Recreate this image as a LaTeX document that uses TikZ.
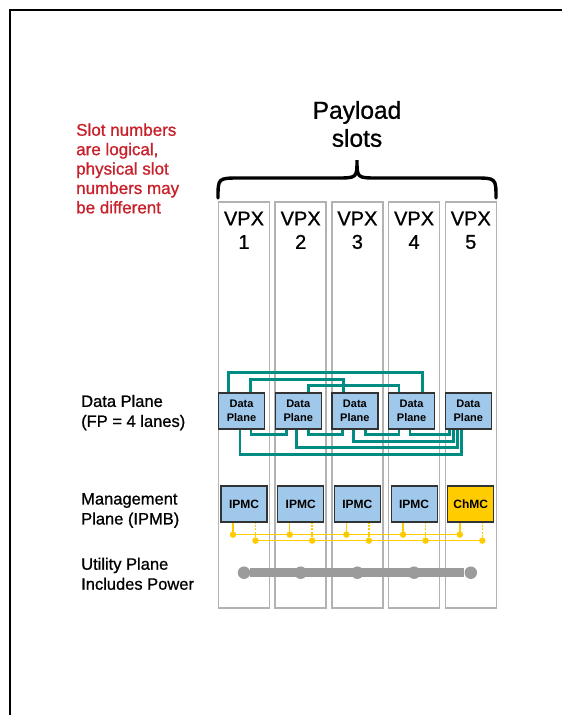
\documentclass[tikz,border=0pt]{standalone}
\usepackage{fontspec}
\setmainfont{Liberation Sans}
\newfontfamily\medium[FakeBold=0.9]{Liberation Sans}
\usetikzlibrary{positioning}
\definecolor{dpteal}{RGB}{0,140,130}
\definecolor{boxblue}{RGB}{160,200,234}
\definecolor{ipmbgold}{RGB}{255,204,0}
\definecolor{notered}{RGB}{200,32,42}
\definecolor{slotgray}{RGB}{178,178,178}
\definecolor{powergray}{RGB}{155,155,155}

\begin{document}
\begin{tikzpicture}[x=1pt, y=-1pt, node distance=56.7pt, on grid,
    slot/.style={draw=slotgray, line width=1.5pt, minimum width=51pt, minimum height=406pt, inner sep=0pt},
    vpx/.style={align=center, inner sep=0pt, font=\medium\fontsize{20}{23.5}\selectfont},
    dplane/.style={draw=black!80, line width=1.2pt, fill=boxblue, minimum width=46pt, minimum height=36pt, inner sep=0pt, align=center, font=\fontsize{11}{14.4}\selectfont\bfseries},
    mgmt/.style={dplane, font=\fontsize{12}{14}\selectfont\bfseries},
    dpline/.style={draw=dpteal, line width=2.8pt},
    bus/.style={draw=ipmbgold, line width=1.5pt},
    busdot/.style={circle, fill=ipmbgold, minimum size=6.5pt, inner sep=0pt},
    power/.style={draw=powergray, line width=8.5pt},
    pdot/.style={circle, fill=powergray, minimum size=12.5pt, inner sep=0pt},
    planetext/.style={align=left, anchor=west, inner sep=0pt, font=\medium\fontsize{16.5}{20}\selectfont}]
        \useasboundingbox (0,0) rectangle (562,715);
        \draw[line width=2.6pt] (10,720) -- (10,10) -- (570,10);

        % title and note
        \node[align=center, inner sep=0pt, font=\medium\fontsize{24.5}{28}\selectfont] (title) at (357,124) {Payload\\slots};
        \node[planetext, text=notered, font=\medium\fontsize{17}{19.4}\selectfont] (note) at (76,168.5) {Slot numbers\\are logical,\\physical slot\\numbers may\\be different};
        \draw[line width=3.4pt, line cap=round] (218,198) .. controls (218,178) .. (240,178) -- (336,178) .. controls (357,178) .. (357,160)
              .. controls (357,178) .. (378,178) -- (474,178) .. controls (496,178) .. (496,198);

        % slots
        \node[slot]     (s_1) at (244,405)         {};
        \node[slot]     (s_2) [right of = s_1]     {};
        \node[slot]     (s_3) [right of = s_2]     {};
        \node[slot]     (s_4) [right of = s_3]     {};
        \node[slot]     (s_5) [right of = s_4]     {};
        \node[vpx]      (v_1) at ([yshift=-29pt]s_1.north) {VPX\\1};
        \node[vpx]      (v_2) at ([yshift=-29pt]s_2.north) {VPX\\2};
        \node[vpx]      (v_3) at ([yshift=-29pt]s_3.north) {VPX\\3};
        \node[vpx]      (v_4) at ([yshift=-29pt]s_4.north) {VPX\\4};
        \node[vpx]      (v_5) at ([yshift=-29pt]s_5.north) {VPX\\5};

        % data plane
        \node[dplane]   (d_1) at (241.5,411)       {Data\\Plane};
        \node[dplane]   (d_2) [right of = d_1]     {Data\\Plane};
        \node[dplane]   (d_3) [right of = d_2]     {Data\\Plane};
        \node[dplane]   (d_4) [right of = d_3]     {Data\\Plane};
        \node[dplane]   (d_5) [right of = d_4]     {Data\\Plane};
        \draw[dpline] ([xshift=10.3pt]d_1.north west) -- ++(0,-20) -| ([xshift=34.3pt]d_4.north west);
        \draw[dpline] ([xshift=32.7pt]d_1.north west) -- ++(0,-13) -| ([xshift=12pt]d_3.north west);
        \draw[dpline] ([xshift=34pt]d_2.north west) -- ++(0,-7) -| ([xshift=11pt]d_4.north west);
        \draw[dpline] ([xshift=22pt]d_1.south west) -- ++(0,25) -| ([xshift=16.6pt]d_5.south west);
        \draw[dpline] ([xshift=22pt]d_2.south west) -- ++(0,18) -| ([xshift=12.6pt]d_5.south west);
        \draw[dpline] ([xshift=22pt]d_3.south west) -- ++(0,12) -| ([xshift=8.6pt]d_5.south west);
        \draw[dpline] ([xshift=22pt]d_4.south west) -- ++(0,5) -| ([xshift=4.5pt]d_5.south west);
        \draw[dpline] ([xshift=33pt]d_1.south west) -- ++(0,5) -| ([xshift=12pt]d_2.south west);
        \draw[dpline] ([xshift=34pt]d_2.south west) -- ++(0,5) -| ([xshift=11pt]d_3.south west);
        \draw[dpline] ([xshift=34pt]d_3.south west) -- ++(0,5) -| ([xshift=11pt]d_4.south west);

        % management plane
        \node[mgmt]     (m_1) at (244,504)         {IPMC};
        \node[mgmt]     (m_2) [right of = m_1]     {IPMC};
        \node[mgmt]     (m_3) [right of = m_2]     {IPMC};
        \node[mgmt]     (m_4) [right of = m_3]     {IPMC};
        \node[mgmt, fill=ipmbgold] (m_5) [right of = m_4] {ChMC};
        \node[busdot]   (a_1) at ([xshift=-11pt,yshift=-12pt]m_1.south)   {};
        \node[busdot]   (a_2) at ([xshift=-11pt,yshift=-12pt]m_2.south)   {};
        \node[busdot]   (a_3) at ([xshift=-11pt,yshift=-12pt]m_3.south)   {};
        \node[busdot]   (a_4) at ([xshift=-11pt,yshift=-12pt]m_4.south)   {};
        \node[busdot]   (a_5) at ([xshift=-11pt,yshift=-12pt]m_5.south)   {};
        \node[busdot]   (b_1) at ([xshift=11.5pt,yshift=-18pt]m_1.south)  {};
        \node[busdot]   (b_2) at ([xshift=11.5pt,yshift=-18pt]m_2.south)  {};
        \node[busdot]   (b_3) at ([xshift=11.5pt,yshift=-18pt]m_3.south)  {};
        \node[busdot]   (b_4) at ([xshift=11.5pt,yshift=-18pt]m_4.south)  {};
        \node[busdot]   (b_5) at ([xshift=11.5pt,yshift=-18pt]m_5.south)  {};
        \draw[bus] (a_1.center) -- (a_5.center);
        \draw[bus] (b_1.center) -- (b_5.center);
        \draw[bus] (a_1.center) -- (a_1 |- m_1.south);
        \draw[bus] (a_2.center) -- (a_2 |- m_2.south);
        \draw[bus] (a_3.center) -- (a_3 |- m_3.south);
        \draw[bus] (a_4.center) -- (a_4 |- m_4.south);
        \draw[bus] (a_5.center) -- (a_5 |- m_5.south);
        \draw[bus, dash pattern=on 2pt off 1.5pt] (b_1.center) -- (b_1 |- m_1.south);
        \draw[bus, dash pattern=on 2pt off 1.5pt] (b_2.center) -- (b_2 |- m_2.south);
        \draw[bus, dash pattern=on 2pt off 1.5pt] (b_3.center) -- (b_3 |- m_3.south);
        \draw[bus, dash pattern=on 2pt off 1.5pt] (b_4.center) -- (b_4 |- m_4.south);
        \draw[bus, dash pattern=on 2pt off 1.5pt] (b_5.center) -- (b_5 |- m_5.south);

        % utility plane
        \node[pdot]     (p_1) at (s_1 |- 0,572.7)  {};
        \node[pdot]     (p_2) [right of = p_1]     {};
        \node[pdot]     (p_3) [right of = p_2]     {};
        \node[pdot]     (p_4) [right of = p_3]     {};
        \node[pdot]     (p_5) [right of = p_4]     {};
        \draw[power] (p_1) -- (p_5);

        % plane labels
        \node[planetext] (dptext) at (81,412.6) {Data Plane\\(FP = 4 lanes)};
        \node[planetext] (mgtext) at (81,510.5) {Management\\Plane (IPMB)};
        \node[planetext] (uptext) at (81,573.8) {Utility Plane\\Includes Power};
\end{tikzpicture}
\end{document}
